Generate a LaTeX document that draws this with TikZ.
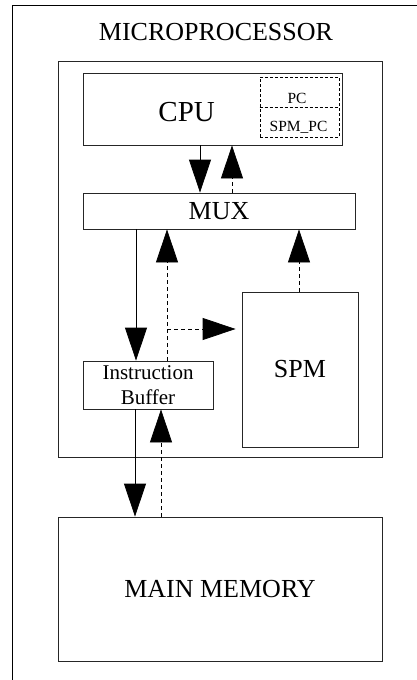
\documentclass[tikz,border=0pt]{standalone}
\usepackage{fontspec}
\setmainfont{Liberation Serif}
\usetikzlibrary{arrows.meta}
\begin{document}
\begin{tikzpicture}[x=1pt,y=-1pt,
  box/.style={draw=black!85, line width=0.8pt, inner sep=0pt, align=center},
  regbox/.style={draw, line width=0.8pt, dash pattern=on 3pt off 2pt, inner sep=0pt},
  txt/.style={inner sep=0pt, anchor=base},
  arr/.style={-{Triangle[length=33pt,width=22pt]}, line width=0.8pt},
  dsh/.style={dash pattern=on 4pt off 3pt},
  big/.style={font=\fontsize{26}{30}\selectfont},
  mid/.style={font=\fontsize{21}{25.7}\selectfont},
  small/.style={font=\fontsize{15.5}{18}\selectfont}]
\useasboundingbox (0,0) rectangle (417,680);
\fill[white] (0,0) rectangle (417,680);
% outer frame
\draw[line width=1pt] (12,680) -- (12,5) -- (417,5);

% microprocessor enclosure
\node[txt, big] (title) at (216,40) {MICROPROCESSOR};
\node[box, minimum width=324pt, minimum height=396pt] (micro) at (220,259) {};

% CPU with its registers
\node[box, minimum width=259pt, minimum height=72pt] (cpu) at (212.5,109) {};
\node[txt, font=\fontsize{29}{33}\selectfont] (cputext) at (186.7,121.7) {CPU};
\node[regbox, minimum width=79pt, minimum height=60pt] (regs) at (299.5,107) {};
\draw[line width=0.8pt, dash pattern=on 3pt off 2pt] (regs.west) -- (regs.east);
\node[txt, small] (pc) at (297,103.3) {PC};
\node[txt, small] (spmpc) at (298.5,131.7) {SPM\_PC};

% inner blocks
\node[box, big, minimum width=272pt, minimum height=36pt] (mux) at (219,211) {MUX};
\node[box, big, minimum width=116pt, minimum height=155pt] (spm) at (300,369.5) {SPM};
\node[box, mid, minimum width=130pt, minimum height=48pt] (ib) at (148,385) {Instruction\\Buffer};

% main memory
\node[box, big, minimum width=324pt, minimum height=144pt] (main) at (220,589) {MAIN MEMORY};

% connectors
\draw[arr] (cpu.south -| 200,0) -- (mux.north -| 200,0);
\draw[arr,dsh] (mux.north -| 232,0) -- (cpu.south -| 232,0);
\draw[arr] (mux.south -| 136,0) -- (ib.north -| 136,0);
\draw[arr,dsh] (ib.north -| 167,0) -- (mux.south -| 167,0);
\coordinate (split) at (167,329);
\draw[arr,dsh,shorten >=6pt] (split) -- (spm.west |- split);
\draw[arr,dsh] (spm.north -| 299,0) -- (mux.south -| 299,0);
\draw[arr] (ib.south -| 135,0) -- (main.north -| 135,0);
\draw[arr,dsh] (main.north -| 161,0) -- (ib.south -| 161,0);
\end{tikzpicture}
\end{document}
